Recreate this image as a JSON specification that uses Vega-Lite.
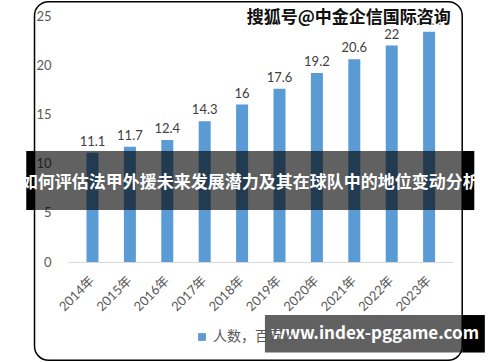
{
  "$schema": "https://vega.github.io/schema/vega-lite/v6.json",
  "autosize": "none",
  "width": 385,
  "height": 246,
  "padding": {"left": 68, "top": 16, "right": 47, "bottom": 100},
  "background": "white",
  "config": {
    "view": {"stroke": null},
    "font": "Lato, Noto Sans CJK SC"
  },
  "data": {
    "values": [
      {"year": 2014, "value": 11.1, "series": "人数，百万人"},
      {"year": 2015, "value": 11.7, "series": "人数，百万人"},
      {"year": 2016, "value": 12.4, "series": "人数，百万人"},
      {"year": 2017, "value": 14.3, "series": "人数，百万人"},
      {"year": 2018, "value": 16, "series": "人数，百万人"},
      {"year": 2019, "value": 17.6, "series": "人数，百万人"},
      {"year": 2020, "value": 19.2, "series": "人数，百万人"},
      {"year": 2021, "value": 20.6, "series": "人数，百万人"},
      {"year": 2022, "value": 22, "series": "人数，百万人"},
      {"year": 2023, "value": 23.4, "series": "人数，百万人"}
    ]
  },
  "layer": [
    {
      "mark": {"type": "bar", "width": 12},
      "encoding": {
        "x": {
          "field": "year", "type": "quantitative",
          "scale": {"domain": [2013.479, 2023.505], "nice": false, "zero": false},
          "axis": {
            "title": null, "values": [2014, 2015, 2016, 2017, 2018, 2019, 2020, 2021, 2022, 2023],
            "labelExpr": "datum.value + '年'", "labelAngle": -45, "labelFontSize": 13,
            "labelColor": "#595959", "ticks": false, "grid": false, "labelPadding": 12, "labelOffset": -5,
            "domainColor": "#d9d9d9", "domainWidth": 1, "labelFlush": false, "labelOverlap": false,
            "labelFont": "Lato, Noto Sans CJK SC"
          }
        },
        "y": {
          "field": "value", "type": "quantitative",
          "scale": {"domain": [0, 25], "nice": false},
          "axis": {
            "title": null, "values": [0, 5, 10, 15, 20, 25], "grid": false, "domain": false,
            "ticks": false, "labelPadding": 17, "labelFontSize": 13, "labelColor": "#595959",
            "labelFont": "Lato"
          }
        },
        "color": {
          "field": "series", "type": "nominal",
          "scale": {"range": ["#5b9bd5"]},
          "legend": {
            "title": null, "orient": "none", "legendX": 127, "legendY": 314,
            "symbolType": "square", "symbolSize": 60, "labelFontSize": 14,
            "labelColor": "#595959", "labelFont": "Noto Sans CJK SC", "zindex": 0
          }
        }
      }
    },
    {
      "mark": {"type": "text", "baseline": "bottom", "dy": -4, "fontSize": 13, "color": "#404040", "font": "Lato"},
      "encoding": {
        "x": {"field": "year", "type": "quantitative"},
        "y": {"field": "value", "type": "quantitative"},
        "text": {"field": "value", "type": "quantitative"}
      }
    },
    {
      "data": {"values": [{}]},
      "mark": {"type": "rect", "fill": "transparent", "stroke": "#000000", "strokeWidth": 1.5, "cornerRadius": 14},
      "encoding": {
        "x": {"datum": 2012.45}, "x2": {"datum": 2023.885},
        "y": {"datum": 26.45}, "y2": {"datum": -9.98}
      }
    },
    {
      "data": {"values": [{"t": "搜狐号@中金企信国际咨询"}]},
      "mark": {"type": "text", "fontSize": 17, "fontWeight": "bold", "font": "Noto Sans CJK SC", "color": "#111111", "stroke": "white", "strokeWidth": 2.5, "strokeOpacity": 0.9, "baseline": "middle", "align": "center"},
      "encoding": {
        "x": {"datum": 2020.85}, "y": {"datum": 24.8},
        "text": {"field": "t"}
      }
    },
    {
      "data": {"values": [{"t": "搜狐号@中金企信国际咨询"}]},
      "mark": {"type": "text", "fontSize": 17, "fontWeight": "bold", "font": "Noto Sans CJK SC", "color": "#111111", "baseline": "middle", "align": "center"},
      "encoding": {
        "x": {"datum": 2020.85}, "y": {"datum": 24.8},
        "text": {"field": "t"}
      }
    },
    {
      "data": {"values": [{}]},
      "mark": {"type": "rect", "color": "#000000", "opacity": 0.62},
      "encoding": {
        "x": {"datum": 2012.46}, "x2": {"datum": 2023.885},
        "y": {"datum": 11.28}, "y2": {"datum": 5.28}
      }
    },
    {
      "data": {"values": [{}]},
      "mark": {"type": "rect", "color": "#000000", "opacity": 1},
      "encoding": {
        "x": {"datum": 2012.229}, "x2": {"datum": 2012.46},
        "y": {"datum": 11.28}, "y2": {"datum": 5.28}
      }
    },
    {
      "data": {"values": [{}]},
      "mark": {"type": "rect", "color": "#000000", "opacity": 1},
      "encoding": {
        "x": {"datum": 2023.885}, "x2": {"datum": 2024.208},
        "y": {"datum": 11.28}, "y2": {"datum": 5.28}
      }
    },
    {
      "data": {"values": [{"t": "如何评估法甲外援未来发展潜力及其在球队中的地位变动分析"}]},
      "mark": {"type": "text", "fontSize": 17, "fontWeight": "bold", "font": "Noto Sans CJK SC", "color": "#ffffff", "baseline": "middle", "align": "center"},
      "encoding": {
        "x": {"datum": 2018.22}, "y": {"datum": 8.03},
        "text": {"field": "t"}
      }
    },
    {
      "data": {"values": [{}]},
      "mark": {"type": "rect", "color": "#000000", "opacity": 0.62},
      "encoding": {
        "x": {"datum": 2018.61}, "x2": {"datum": 2023.885},
        "y": {"datum": -5.39}, "y2": {"datum": -9.2}
      }
    },
    {
      "data": {"values": [{}]},
      "mark": {"type": "rect", "color": "#000000", "opacity": 1},
      "encoding": {
        "x": {"datum": 2023.885}, "x2": {"datum": 2024.49},
        "y": {"datum": -5.39}, "y2": {"datum": -9.2}
      }
    },
    {
      "data": {"values": [{"t": "www.index-pggame.com"}]},
      "mark": {"type": "text", "fontSize": 17, "fontWeight": "bold", "font": "Noto Sans CJK SC", "color": "#ffffff", "baseline": "middle", "align": "center"},
      "encoding": {
        "x": {"datum": 2021.55}, "y": {"datum": -7.32},
        "text": {"field": "t"}
      }
    }
  ]
}
